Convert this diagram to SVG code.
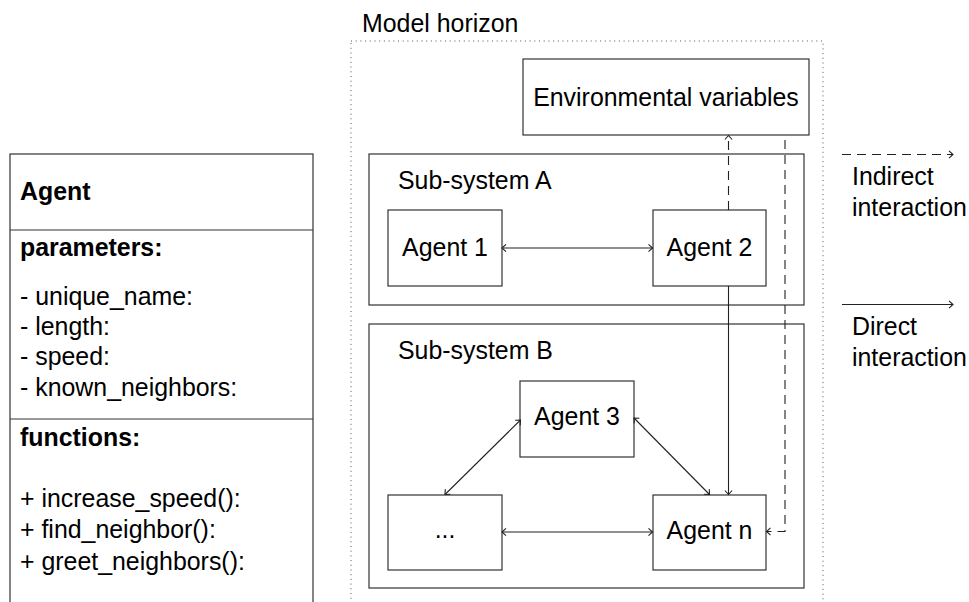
<svg xmlns="http://www.w3.org/2000/svg" width="969" height="602" viewBox="0 0 969 602">
<style>
  text { font-family: "Liberation Sans", Arial, Helvetica, sans-serif; font-size: 24.9px; fill: #000; }
  .b { font-weight: bold; }
  .box { fill: #fff; stroke: #333; stroke-width: 1.2; }
  .frame { fill: none; stroke: #333; stroke-width: 1.2; }
  .dot { fill: none; stroke: #555; stroke-width: 1; stroke-dasharray: 1 3.7; }
  .ln { fill: none; stroke: #222; stroke-width: 1.1; }
  .dash { stroke-dasharray: 9 6; }
  .c { text-anchor: middle; }
</style>
<defs>
  <marker id="ah" viewBox="-6 -5 8 10" markerWidth="8" markerHeight="10" refX="0" refY="0" orient="auto-start-reverse" markerUnits="userSpaceOnUse">
    <path d="M -4 -3.6 L 0 0 L -4 3.6" fill="none" stroke="#222" stroke-width="1.1"/>
  </marker>
</defs>

<g id="agent-class">
  <rect class="box" x="10" y="154" width="303" height="470"/>
  <line class="frame" x1="10" y1="230" x2="313" y2="230"/>
  <line class="frame" x1="10" y1="419" x2="313" y2="419"/>
  <text class="b" x="20" y="200">Agent</text>
  <text class="b" x="20" y="256">parameters:</text>
  <text x="20" y="305">- unique_name:</text>
  <text x="20" y="335">- length:</text>
  <text x="20" y="365">- speed:</text>
  <text x="20" y="396">- known_neighbors:</text>
  <text class="b" x="20" y="446">functions:</text>
  <text x="20" y="507">+ increase_speed():</text>
  <text x="20" y="538">+ find_neighbor():</text>
  <text x="20" y="570">+ greet_neighbors():</text>
</g>

<g id="model-horizon">
  <rect class="dot" x="351" y="41" width="472" height="580"/>
  <text x="362" y="32">Model horizon</text>
</g>

<g id="environmental-variables">
  <rect class="box" x="523" y="59" width="286" height="76"/>
  <text class="c" x="666" y="106">Environmental variables</text>
</g>

<g id="sub-system-a">
  <rect class="frame" x="369" y="154" width="435" height="151"/>
  <text x="398" y="189">Sub-system A</text>
</g>

<g id="sub-system-b">
  <rect class="frame" x="369" y="324" width="435" height="264"/>
  <text x="398" y="359">Sub-system B</text>
</g>

<g id="agent-1">
  <rect class="box" x="388" y="210" width="114" height="76"/>
  <text class="c" x="445" y="256">Agent 1</text>
</g>
<g id="agent-2">
  <rect class="box" x="653" y="210" width="113" height="76"/>
  <text class="c" x="709.5" y="256">Agent 2</text>
</g>
<g id="agent-3">
  <rect class="box" x="520" y="381" width="114" height="76"/>
  <text class="c" x="577" y="425">Agent 3</text>
</g>
<g id="agent-dots">
  <rect class="box" x="388" y="495" width="114" height="75"/>
  <text class="c" x="445" y="538">...</text>
</g>
<g id="agent-n">
  <rect class="box" x="653" y="495" width="113" height="75"/>
  <text class="c" x="709.5" y="539">Agent n</text>
</g>

<g id="connectors">
  <line class="ln" x1="502" y1="248" x2="652.5" y2="248" marker-start="url(#ah)" marker-end="url(#ah)"/>
  <line class="ln" x1="728.5" y1="286" x2="728.5" y2="494.5" marker-end="url(#ah)"/>
  <line class="ln dash" x1="728.5" y1="210" x2="728.5" y2="135.5" marker-end="url(#ah)"/>
  <polyline class="ln dash" points="785,140 785,531.5 766.5,531.5" marker-end="url(#ah)"/>
  <line class="ln" x1="520.5" y1="420" x2="445" y2="494.5" marker-start="url(#ah)" marker-end="url(#ah)"/>
  <line class="ln" x1="634" y1="418" x2="709.5" y2="494.5" marker-start="url(#ah)" marker-end="url(#ah)"/>
  <line class="ln" x1="502" y1="532" x2="652.5" y2="532" marker-start="url(#ah)" marker-end="url(#ah)"/>
</g>

<g id="legend">
  <line class="ln dash" x1="842" y1="154.5" x2="953" y2="154.5" marker-end="url(#ah)"/>
  <text x="852" y="185">Indirect</text>
  <text x="852" y="216">interaction</text>
  <line class="ln" x1="842" y1="304.5" x2="953" y2="304.5" marker-end="url(#ah)"/>
  <text x="852" y="335">Direct</text>
  <text x="852" y="366">interaction</text>
</g>
</svg>
